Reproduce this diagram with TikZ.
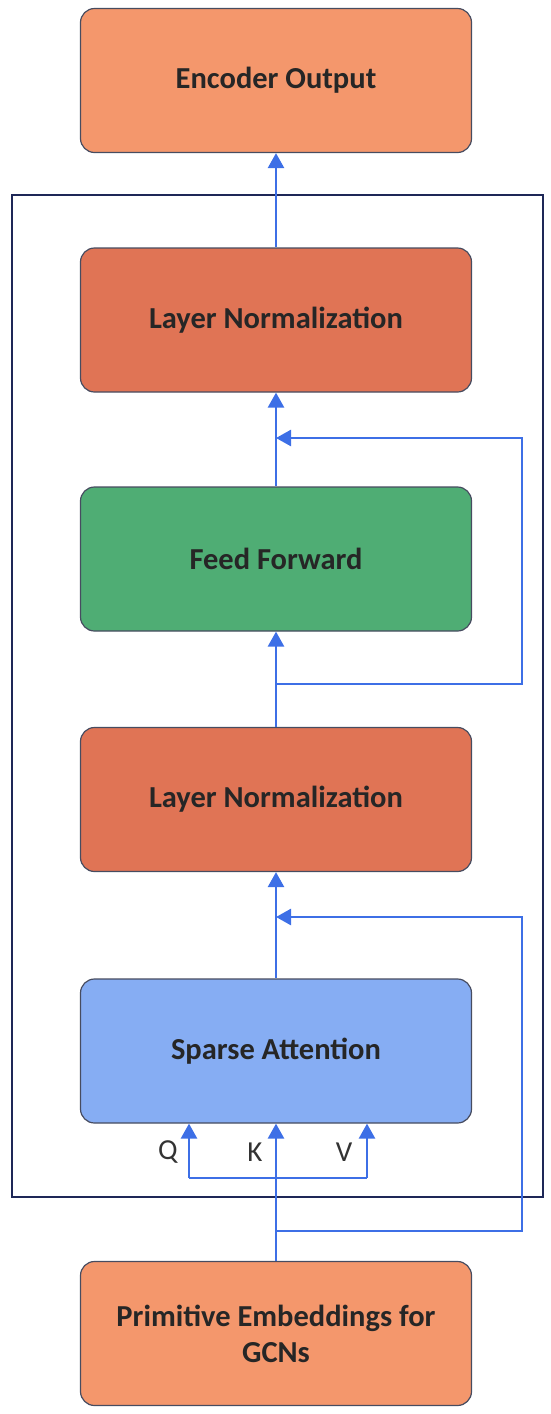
\documentclass[tikz,border=0pt]{standalone}
\usepackage{fontspec}
\setmainfont{Carlito}
\usetikzlibrary{arrows.meta,positioning}
\definecolor{OutOrange}{HTML}{F4976C}
\definecolor{NormCoral}{HTML}{E07455}
\definecolor{FfGreen}{HTML}{4FAD74}
\definecolor{AttnBlue}{HTML}{86ADF3}
\definecolor{LinkBlue}{HTML}{3D6FE6}
\definecolor{FrameNavy}{HTML}{1E2757}
\definecolor{EdgeGrey}{HTML}{474C60}

\begin{document}
\begin{tikzpicture}[x=1pt, y=1pt,
  block/.style={draw=EdgeGrey, line width=1.2pt, rounded corners=14pt,
    minimum width=391pt, minimum height=144pt, align=center,
    font=\fontsize{30.5}{36}\selectfont\bfseries, text=black!85},
  link/.style={LinkBlue, line width=2.6pt, -{Triangle[length=15pt,width=16pt]}},
  wire/.style={LinkBlue, line width=2.6pt},
  qkv/.style={font=\fontsize{29}{34}\selectfont, text=black!80}]
  \useasboundingbox (0,0) rectangle (550,-1414);

  % --- encoder frame ---
  \draw[FrameNavy, line width=2.8pt] (12,-195) rectangle (543,-1197);

  % --- blocks ---
  \node[block, fill=OutOrange] (enc) at (276,-80.5) {Encoder Output};
  \node[block, fill=NormCoral] (norm1) at (276,-320) {Layer Normalization};
  \node[block, fill=FfGreen] (ffwd) at (276,-559) {Feed Forward};
  \node[block, fill=NormCoral] (norm2) at (276,-799.5) {Layer Normalization};
  \node[block, fill=AttnBlue] (attn) at (276,-1051) {Sparse Attention};
  \node[block, fill=OutOrange] (prim) at (276,-1333.5) {Primitive Embeddings for\\GCNs};

  % --- Q K V labels ---
  \node[qkv] (qlab) at (168,-1152) {Q};
  \node[qkv] (klab) at (255,-1152) {K};
  \node[qkv] (vlab) at (344,-1152) {V};

  % --- main flow ---
  \draw[link] (norm1.north) -- (enc.south);
  \draw[link] (ffwd.north) -- (norm1.south);
  \draw[link] (norm2.north) -- (ffwd.south);
  \draw[link] (attn.north) -- (norm2.south);
  \draw[link] (prim.north) -- (attn.south);

  % --- residual paths ---
  \coordinate (res1) at (276,-684);
  \coordinate (add1) at (276,-438);
  \draw[link] (res1) -- (522,-684) -- (522,-438) -- (add1);
  \coordinate (res2) at (276,-1231);
  \coordinate (add2) at (276,-917);
  \draw[link] (res2) -- (522,-1231) -- (522,-917) -- (add2);

  % --- query / value split ---
  \coordinate (qfoot) at (189,-1178);
  \coordinate (vfoot) at (367,-1178);
  \draw[wire] (qfoot) -- (vfoot);
  \draw[link] (qfoot) -- (qfoot |- attn.south);
  \draw[link] (vfoot) -- (vfoot |- attn.south);
\end{tikzpicture}
\end{document}
